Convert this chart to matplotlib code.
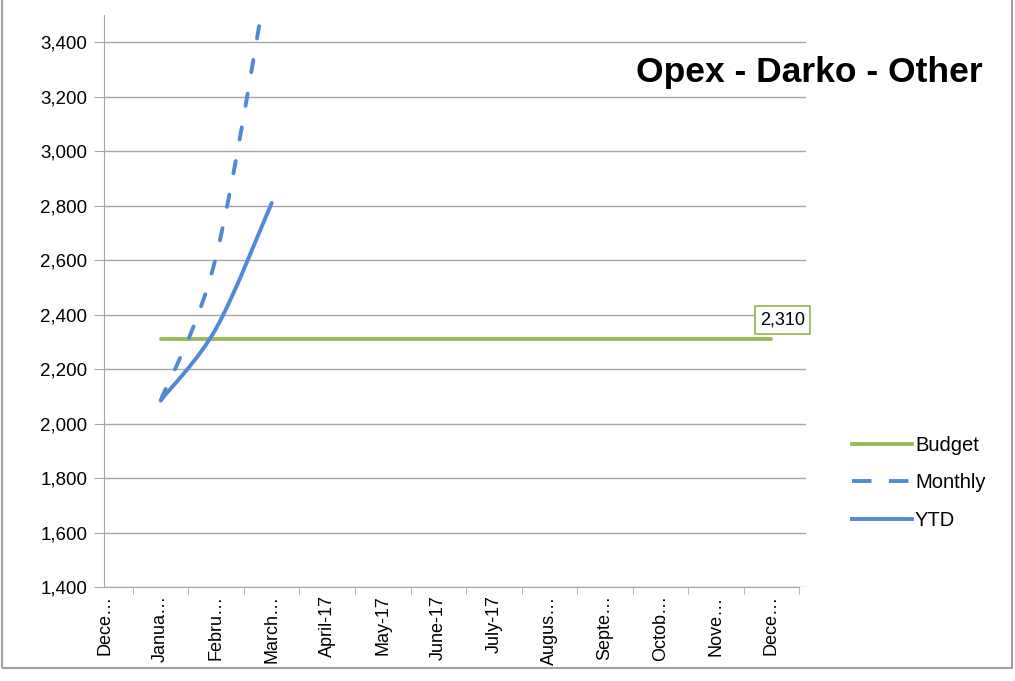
import matplotlib
matplotlib.use("Agg")
import numpy as np
import matplotlib.pyplot as plt
from matplotlib.path import Path
from matplotlib.patches import PathPatch, Rectangle
from matplotlib.lines import Line2D

plt.rcParams["font.family"] = ["Liberation Sans", "DejaVu Sans"]

# categories as shown (truncated) on the axis
months = ["Dece…", "Janua…", "Febru…", "March…", "April-17", "May-17", "June-17",
          "July-17", "Augus…", "Septe…", "Octob…", "Nove…", "Dece…"]
budget = [np.nan] + [2310] * 12
monthly = [np.nan, 2085, 2615, 3730]
ytd = [np.nan, 2085, 2350, 2810]

GREEN = "#9BBB59"
BLUE = "#5089D6"
GRID = "#A6A6A6"
LW = 2.8
DASH = (0, (3.2, 5.6))


def smooth_path(xs, ys):
    # Excel-style smoothed line: cubic Bezier, Catmull-Rom control points
    pts = [(x, y) for x, y in zip(xs, ys) if not np.isnan(y)]
    pts = np.array(pts, dtype=float)
    n = len(pts)
    verts = [tuple(pts[0])]
    codes = [Path.MOVETO]
    for i in range(n - 1):
        p0 = pts[max(i - 1, 0)]
        p1 = pts[i]
        p2 = pts[i + 1]
        p3 = pts[min(i + 2, n - 1)]
        c1 = p1 + (p2 - p0) / 6.0
        c2 = p2 - (p3 - p1) / 6.0
        verts += [tuple(c1), tuple(c2), tuple(p2)]
        codes += [Path.CURVE4] * 3
    return Path(verts, codes)


fig = plt.figure(figsize=(10.15, 6.81), dpi=100)
ax = fig.add_axes([0.1025, 0.138, 0.692, 0.84])

x = np.arange(len(months))
ax.plot(x, budget, color=GREEN, lw=LW, solid_capstyle="round", zorder=3)

ax.add_patch(PathPatch(smooth_path(x, monthly), fill=False, edgecolor=BLUE, lw=LW,
                       linestyle=DASH, capstyle="round", zorder=4))
ax.add_patch(PathPatch(smooth_path(x, ytd), fill=False, edgecolor=BLUE, lw=LW,
                       capstyle="round", joinstyle="round", zorder=4))

ax.annotate("{:,}".format(budget[-1]), xy=(x[-1], budget[-1]), xytext=(8, 14),
            textcoords="offset points", ha="center", va="center", fontsize=13,
            bbox=dict(boxstyle="square,pad=0.3", fc="white", ec=GREEN, lw=1.3), zorder=5)

ax.set_ylim(1400, 3500)
ax.set_yticks(np.arange(1400, 3401, 200))
ax.yaxis.set_major_formatter(matplotlib.ticker.FuncFormatter(lambda v, p: "{:,.0f}".format(v)))
ax.set_xlim(-0.02, 12.63)
ax.set_xticks(x)
ax.set_xticklabels(months, rotation=90)
ax.set_xticks(np.arange(0.5, 12.6, 1), minor=True)
ax.tick_params(axis="x", which="major", length=0, pad=6, labelsize=13)
ax.tick_params(axis="x", which="minor", length=5, color=GRID, direction="out")
ax.tick_params(axis="y", length=7, color=GRID, pad=5, labelsize=13.5)
ax.grid(axis="y", color=GRID, lw=1)
ax.set_axisbelow(True)
for s in ["top", "right"]:
    ax.spines[s].set_visible(False)
for s in ["left", "bottom"]:
    ax.spines[s].set_color(GRID)
ax.spines["bottom"].set_bounds(-0.02, 12.5)

handles = [Line2D([], [], color=GREEN, lw=LW),
           Line2D([], [], color=BLUE, lw=LW, linestyle=(0, (5, 4.5))),
           Line2D([], [], color=BLUE, lw=LW)]
fig.legend(handles, ["Budget", "Monthly", "YTD"], loc="center left",
           bbox_to_anchor=(0.822, 0.291), frameon=False, fontsize=14.5,
           handlelength=2.95, handletextpad=0.15, labelspacing=0.92)

fig.text(0.797, 0.894, "Opex - Darko - Other", fontsize=25.5, fontweight="bold",
         ha="center", va="center")

fig.add_artist(Rectangle((2 / 1015, 13 / 681), 1010 / 1015, 1.2, transform=fig.transFigure,
                         fill=False, edgecolor="#A0A0A0", lw=1.5))

fig.savefig("out.png", dpi=100)
